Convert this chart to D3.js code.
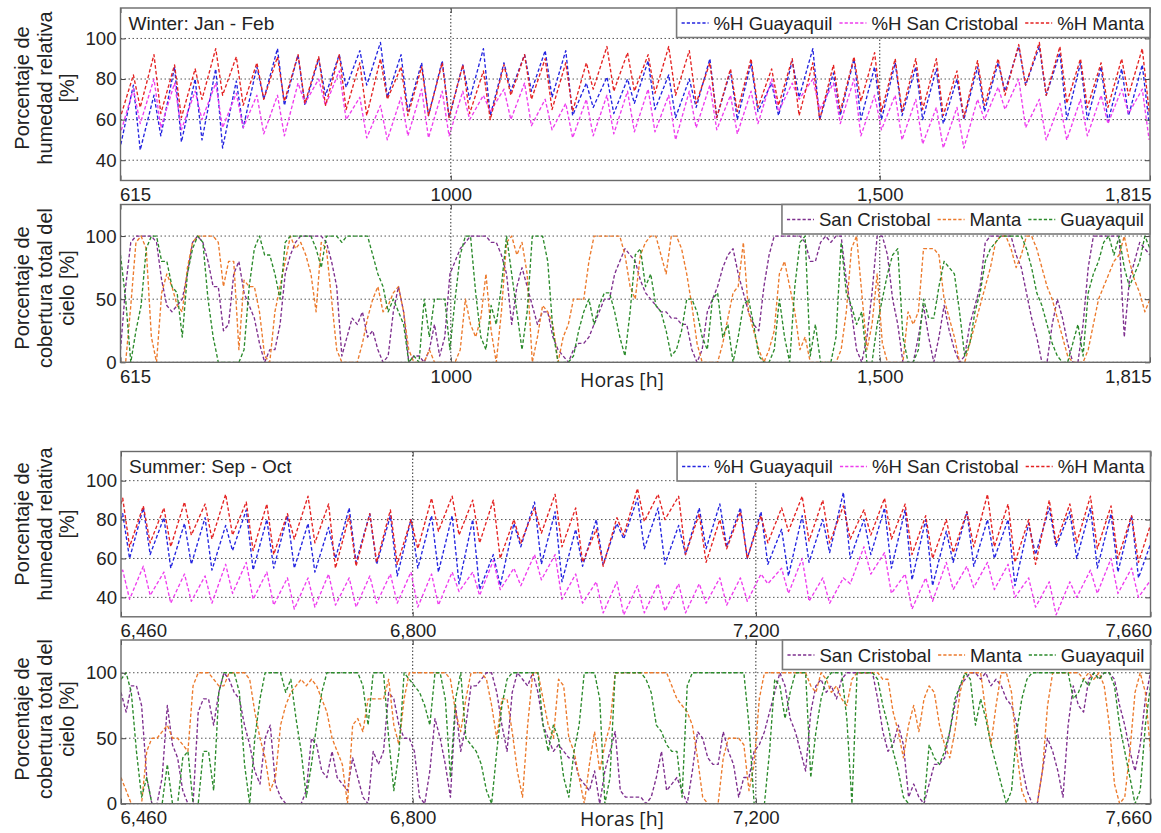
<!DOCTYPE html>
<html>
<head>
<meta charset="utf-8">
<script src="https://cdn.jsdelivr.net/npm/d3@7"></script>
<style>
  body { margin: 0; background: #fff; }
  svg text { font-family: Arial, "Liberation Sans", sans-serif; fill: #222; }
</style>
</head>
<body>
<svg id="chart" width="1161" height="833"></svg>
<script>
// ---------- axes ----------
const winterTicks = [615, 1000, 1500, 1815];
const winterTickLabels = ["615", "1000", "1,500", "1,815"];
const summerTicks = [6460, 6800, 7200, 7660];
const summerTickLabels = ["6,460", "6,800", "7,200", "7,660"];
const humidityTicks = [40, 60, 80, 100];
const cloudTicks = [0, 50, 100];

// ---------- relative humidity (%), daily minimum / maximum pairs ----------
// order: afternoon minimum, next morning maximum, afternoon minimum, ...
const winterHumGuayaquil = [45,77, 45,72, 52,86, 49,80, 50,85, 46,79, 56,86, 70,95, 67,92, 67,90, 72,92, 76,94, 77,98, 71,92, 64,88, 62,89, 61,87, 70,95, 62,88, 74,92, 74,94, 71,94, 62,78, 66,81, 63,80, 68,89, 65,82, 61,80, 66,90, 61,84, 60,88, 64,78, 62,89, 71,95, 60,83, 62,90, 60,86, 60,88, 62,86, 60,85, 58,80, 60,86, 64,88, 74,96, 77,96, 72,93, 60,88, 60,86, 59,85, 62,87, 58];
const winterHumSanCristobal = [52,75, 58,80, 56,78, 55,74, 60,78, 56,73, 56,72, 53,72, 52,78, 68,80, 67,84, 60,71, 51,67, 50,71, 52,75, 51,74, 52,74, 60,72, 64,75, 60,78, 57,70, 55,68, 51,70, 52,72, 53,74, 54,75, 54,72, 50,74, 56,77, 55,72, 53,74, 58,80, 64,78, 70,80, 65,78, 58,80, 52,72, 55,72, 50,70, 48,66, 46,66, 46,70, 60,76, 65,80, 56,70, 50,68, 50,70, 52,72, 58,75, 63,75, 50];
const winterHumManta = [60,82, 66,92, 63,87, 61,85, 70,95, 72,91, 67,88, 70,91, 69,92, 68,91, 67,92, 65,88, 62,90, 70,86, 62,86, 62,88, 61,87, 63,84, 60,87, 72,92, 70,90, 65,88, 64,88, 75,96, 74,93, 74,92, 73,96, 72,94, 68,88, 61,85, 64,90, 66,85, 67,90, 62,88, 60,87, 64,91, 69,93, 64,90, 64,90, 65,90, 62,84, 61,89, 67,90, 72,97, 77,98, 72,96, 68,90, 66,88, 66,90, 72,95, 64];

const summerHumGuayaquil = [60,83, 60,86, 62,81, 55,78, 57,81, 54,77, 64,85, 54,80, 55,82, 55,78, 53,76, 60,86, 58,83, 57,82, 51,80, 55,82, 53,82, 47,80, 44,62, 46,78, 66,89, 57,84, 48,75, 56,80, 57,78, 70,91, 65,86, 57,77, 62,86, 65,88, 66,86, 60,84, 57,75, 51,82, 58,80, 63,94, 60,80, 62,86, 55,85, 49,80, 46,74, 58,84, 56,80, 60,80, 46,78, 62,86, 66,84, 60,86, 55,83, 53,82, 50,70];
const summerHumSanCristobal = [40,54, 39,56, 41,53, 37,52, 38,51, 37,57, 42,58, 39,53, 36,50, 34,50, 35,52, 36,50, 35,51, 37,52, 37,53, 35,52, 36,53, 43,53, 41,59, 44,55, 46,62, 49,62, 39,52, 37,48, 32,48, 31,46, 32,47, 33,47, 32,47, 37,50, 36,50, 38,52, 47,55, 42,60, 38,50, 37,50, 47,66, 52,63, 42,52, 34,50, 38,58, 44,56, 45,58, 44,57, 40,50, 35,48, 31,48, 40,54, 42,60, 42,55, 40,50];
const summerHumManta = [68,91, 66,87, 68,86, 66,89, 72,88, 70,93, 72,89, 64,88, 62,83, 70,92, 68,88, 55,82, 56,83, 58,85, 57,80, 65,91, 74,92, 72,90, 68,90, 60,80, 68,86, 73,93, 66,86, 58,75, 56,81, 72,96, 79,93, 80,92, 62,83, 58,80, 65,84, 60,82, 68,86, 74,92, 69,90, 68,87, 70,85, 72,91, 70,88, 62,82, 60,80, 63,84, 66,93, 66,88, 58,80, 57,90, 68,88, 68,92, 65,87, 60,82, 58,80];

// ---------- total sky cover (%), one reading every 6 hours ----------
const winterCloudSanCristobal = [10,60,95,100,100,100,100,95,65,45, 40,45,50,70,95,100,95,80,60,60, 25,30,70,80,55,45,35,15,0,10, 10,30,70,85,95,100,100,100,100,100, 95,80,60,5,20,35,30,40,20,25, 10,0,5,40,60,
  40,0,5,5,0,10,30,5,20,70, 80,90,95,100,100,100,100,95,95,85, 70,30,60,75,60,45,30,40,40,20, 10,5,0,10,15,15,20,30,40,50, 50,70,80,90,85,80,65,55,50,45, 40,40,35,35,30,30,10,0,10,40, 50,60,75,85,90,70,55,40,30,25, 60,85,100,100,100,100,100,
  100,95,80,80,95,100,95,100,100,65, 40,10,0,20,55,100,100,85,50,30, 0,0,0,20,45,20,0,20,45,25, 10,0,5,30,45,60,95,100,100,100, 100,100,85,75,55,35,20,0,0,30, 50,35,15,0,0,30,75,100,100,100, 100,100,100,20,65,80,95,90,85];
const winterCloudManta = [0,0,45,95,100,90,20,0,55,70, 60,45,40,75,95,100,100,100,100,95, 60,80,80,10,65,60,60,40,5,0, 40,60,80,100,90,95,85,70,40,95, 90,50,10,0,0,0,0,15,35,50, 60,40,45,55,60,
  40,10,0,0,0,10,0,0,0,0, 0,10,50,30,20,35,70,25,0,40, 95,100,85,95,70,0,20,45,40,30, 0,20,30,50,50,50,80,100,100,100, 100,100,100,85,60,50,85,95,100,100, 85,70,100,100,90,70,45,15,0,0, 0,0,15,35,55,60,95,40,25,10, 0,10,25,70,80,60,40,
  10,20,0,0,0,0,0,0,10,40, 90,100,55,10,30,70,15,0,0,0, 0,40,30,40,90,90,90,85,50,35, 20,0,0,15,30,45,60,75,95,100, 100,90,75,85,100,100,90,75,60,50, 35,20,5,0,0,0,10,30,50,60, 70,80,85,100,80,65,55,40,50];
const winterCloudGuayaquil = [85,50,0,25,45,90,100,100,80,80, 60,55,20,70,90,100,95,50,20,0, 0,0,0,0,10,60,90,100,85,85, 70,50,95,100,100,100,100,100,90,75, 100,100,100,95,100,100,100,100,100,85, 70,60,40,50,40,
  30,0,5,0,50,20,50,50,50,10, 50,85,100,100,55,20,10,45,30,60, 100,70,40,10,40,100,100,100,80,25, 0,0,0,5,25,40,50,30,45,55, 55,40,20,5,40,85,90,60,70,45, 40,25,5,10,25,50,50,40,20,10, 50,55,20,30,0,20,45,50,30,5, 0,0,10,50,20,0,60,
  95,100,5,30,0,0,0,20,95,55, 45,30,40,0,0,30,50,70,85,90, 20,0,0,10,50,35,35,60,80,75, 70,40,5,15,40,55,80,90,95,100, 100,100,100,100,90,75,55,45,30,15, 5,0,0,15,30,5,55,70,80,95, 100,85,100,75,60,70,80,100,90];

const summerCloudSanCristobal = [85,70,90,90,75,20,0,0,20,75, 45,35,10,0,0,70,80,80,60,85, 100,95,85,80,60,45,25,15,50,60, 15,5,0,0,0,0,10,50,45,25, 20,40,20,15,10,35,20,5,0,40, 30,40,85,80,60,
  50,50,40,5,0,25,65,50,30,5, 75,40,60,90,90,95,100,100,85,60, 40,85,100,95,90,100,85,60,50,40, 45,40,35,35,20,15,10,25,0,25, 40,55,10,5,5,5,5,0,5,20, 40,10,15,20,10,0,25,55,50,35, 30,30,55,40,30,5,20,20,40,45, 55,70,85,100,90,65,55,
  40,25,70,90,95,85,90,80,95,100, 100,100,100,100,100,80,55,40,45,60, 45,5,15,5,0,15,30,30,35,55, 75,90,95,100,100,95,100,90,95,90, 80,75,60,30,10,0,0,25,50,40, 25,5,60,90,75,70,95,100,95,100, 100,95,75,60,40,25,45,80,100];
const summerCloudManta = [20,10,0,0,0,40,50,50,55,60, 50,50,45,40,90,100,100,100,95,90, 90,100,100,100,100,95,70,50,35,10, 20,60,75,85,90,95,90,95,90,80, 70,50,40,30,0,60,65,55,80,80, 80,80,95,60,45,
  80,100,100,100,100,100,100,100,100,95, 70,55,80,100,100,100,95,75,50,80, 80,55,25,5,60,100,100,80,60,50, 95,90,50,40,20,0,30,55,25,45, 60,100,100,100,100,100,100,100,100,100, 100,100,90,80,75,70,60,35,5,0, 0,0,35,50,50,50,45,10,30,80, 100,100,100,100,100,100,100,
  100,100,90,85,100,95,85,90,80,75, 95,100,100,100,100,100,95,95,70,55, 35,60,75,55,80,90,85,60,45,35, 55,85,100,100,100,100,70,45,75,100, 100,85,40,10,0,0,0,25,75,100, 100,100,100,100,100,95,100,95,100,90, 60,15,0,5,40,85,100,85,40];
const summerCloudGuayaquil = [95,100,85,40,5,20,0,0,0,30, 0,0,35,40,0,0,40,40,10,85, 100,100,100,85,30,0,50,80,100,100, 100,100,85,95,65,40,5,30,60,85, 100,100,100,100,100,100,100,90,60,100, 100,100,50,10,40,
  100,95,90,85,75,60,100,100,80,20, 80,100,50,45,40,30,10,0,40,75, 95,100,100,100,100,100,100,60,40,60, 50,20,5,40,60,100,100,100,80,0, 20,100,100,100,100,100,100,95,85,60, 55,45,40,40,5,90,100,100,100,100, 100,100,100,100,100,100,100,60,0,0, 0,40,95,90,65,85,100,
  100,100,20,55,80,95,100,100,100,65, 0,100,100,100,100,95,75,60,40,25, 5,0,0,0,0,45,35,30,40,55, 80,90,100,95,60,80,65,45,30,15, 0,10,55,80,95,100,100,100,100,100, 100,100,100,80,85,95,90,100,95,100, 100,90,60,40,20,0,10,60,90];

// ---------- colours ----------
const humColors = { guayaquil: "#2424e0", sanCristobal: "#ee3cee", manta: "#e42222" };
const cloudColors = { sanCristobal: "#7e2f8e", manta: "#ec7a2c", guayaquil: "#2b8a2b" };

// daily min/max pairs -> hourly positions (minimum ~14:00, maximum ~06:00)
function dailyExtremes(values, firstMinimumHour) {
  return values.map((v, i) => ({ h: firstMinimumHour + 24 * Math.floor(i / 2) + (i % 2 ? 16 : 0), v }));
}
function sixHourly(values, startHour) {
  return values.map((v, i) => ({ h: startHour + 6 * i, v }));
}

const panels = [
  {
    left: 120.5, right: 1150, top: 8, bottom: 180.5,
    xDomain: [615, 1815], yDomain: [30, 115],
    xTicks: winterTicks, xLabels: winterTickLabels, yTicks: humidityTicks,
    title: "Winter: Jan - Feb",
    ylabel: ["Porcentaje de", "humedad relativa", "[%]"], labelY: 88,
    series: [
      { name: "%H Guayaquil", color: humColors.guayaquil, pts: dailyExtremes(winterHumGuayaquil, 614) },
      { name: "%H San Cristobal", color: humColors.sanCristobal, pts: dailyExtremes(winterHumSanCristobal, 614) },
      { name: "%H Manta", color: humColors.manta, pts: dailyExtremes(winterHumManta, 614) }
    ]
  },
  {
    left: 120.5, right: 1150, top: 204.5, bottom: 362.3,
    xDomain: [615, 1815], yDomain: [0, 125],
    xTicks: winterTicks, xLabels: winterTickLabels, yTicks: cloudTicks,
    ylabel: ["Porcentaje de", "cobertura total del", "cielo [%]"], labelY: 288,
    xTitle: "Horas [h]", xTitleOffset: 25,
    series: [
      { name: "San Cristobal", color: cloudColors.sanCristobal, pts: sixHourly(winterCloudSanCristobal, 615) },
      { name: "Manta", color: cloudColors.manta, pts: sixHourly(winterCloudManta, 615) },
      { name: "Guayaquil", color: cloudColors.guayaquil, pts: sixHourly(winterCloudGuayaquil, 615) }
    ]
  },
  {
    left: 121, right: 1150.5, top: 451.5, bottom: 616.8,
    xDomain: [6460, 7660], yDomain: [30, 115],
    xTicks: summerTicks, xLabels: summerTickLabels, yTicks: humidityTicks,
    title: "Summer: Sep - Oct",
    ylabel: ["Porcentaje de", "humedad relativa", "[%]"], labelY: 524,
    series: [
      { name: "%H Guayaquil", color: humColors.guayaquil, pts: dailyExtremes(summerHumGuayaquil, 6446) },
      { name: "%H San Cristobal", color: humColors.sanCristobal, pts: dailyExtremes(summerHumSanCristobal, 6446) },
      { name: "%H Manta", color: humColors.manta, pts: dailyExtremes(summerHumManta, 6446) }
    ]
  },
  {
    left: 121, right: 1150.5, top: 640, bottom: 803.7,
    xDomain: [6460, 7660], yDomain: [0, 125],
    xTicks: summerTicks, xLabels: summerTickLabels, yTicks: cloudTicks,
    ylabel: ["Porcentaje de", "cobertura total del", "cielo [%]"], labelY: 719,
    xTitle: "Horas [h]", xTitleOffset: 22,
    series: [
      { name: "San Cristobal", color: cloudColors.sanCristobal, pts: sixHourly(summerCloudSanCristobal, 6460) },
      { name: "Manta", color: cloudColors.manta, pts: sixHourly(summerCloudManta, 6460) },
      { name: "Guayaquil", color: cloudColors.guayaquil, pts: sixHourly(summerCloudGuayaquil, 6460) }
    ]
  }
];

const svg = d3.select("#chart");
const dash = "3.6,2.2";

panels.forEach((p, idx) => {
  const x = d3.scaleLinear().domain(p.xDomain).range([p.left, p.right]);
  const y = d3.scaleLinear().domain(p.yDomain).range([p.bottom, p.top]);
  const g = svg.append("g");

  const clipId = "plot-clip-" + idx;
  svg.append("clipPath").attr("id", clipId).append("rect")
    .attr("x", p.left).attr("y", p.top)
    .attr("width", p.right - p.left).attr("height", p.bottom - p.top);

  // dotted grid
  g.selectAll(null).data(p.yTicks).join("line")
    .attr("x1", p.left).attr("x2", p.right)
    .attr("y1", d => y(d)).attr("y2", d => y(d))
    .attr("stroke", "#555").attr("stroke-width", 1).attr("stroke-dasharray", "1.5,2.5");
  g.selectAll(null).data(p.xTicks.slice(1, -1)).join("line")
    .attr("x1", d => x(d)).attr("x2", d => x(d))
    .attr("y1", p.top).attr("y2", p.bottom)
    .attr("stroke", "#333").attr("stroke-width", 1).attr("stroke-dasharray", "1.5,2");

  // series
  const line = d3.line().x(d => x(d.h)).y(d => y(d.v));
  const lines = g.append("g").attr("clip-path", `url(#${clipId})`);
  p.series.forEach(s => {
    lines.append("path").datum(s.pts)
      .attr("d", line).attr("fill", "none")
      .attr("stroke", s.color).attr("stroke-width", 1.35)
      .attr("stroke-dasharray", dash).attr("stroke-linejoin", "round");
  });

  // axes
  const yAxis = g.append("g").attr("transform", `translate(${p.left},0)`)
    .call(d3.axisLeft(y).tickValues(p.yTicks).tickSize(-5).tickPadding(4));
  const xAxis = g.append("g").attr("transform", `translate(0,${p.bottom})`)
    .call(d3.axisBottom(x).tickValues(p.xTicks).tickFormat((d, i) => p.xLabels[i]).tickSize(-5).tickPadding(7));
  g.append("g").attr("transform", `translate(${p.right},0)`)
    .call(d3.axisRight(y).tickValues(p.yTicks).tickSize(-5).tickFormat(""));
  g.append("g").attr("transform", `translate(0,${p.top})`)
    .call(d3.axisTop(x).tickValues(p.xTicks).tickSize(-5).tickFormat(""));
  g.selectAll(".domain").remove();
  g.selectAll(".tick line").attr("stroke", "#444");
  [yAxis, xAxis].forEach(a => a.selectAll("text")
    .style("font-family", "Arial, 'Liberation Sans', sans-serif")
    .style("font-size", "18.6px").attr("fill", "#222"));
  const xt = xAxis.selectAll(".tick text");
  xt.filter((d, i) => i === 0).attr("text-anchor", "start").attr("dx", -1);
  xt.filter((d, i) => i === p.xTicks.length - 1).attr("text-anchor", "end").attr("dx", 1);

  // frame
  g.append("rect").attr("x", p.left).attr("y", p.top)
    .attr("width", p.right - p.left).attr("height", p.bottom - p.top)
    .attr("fill", "none").attr("stroke", "#6a6a6a").attr("stroke-width", 1.4);

  // panel title
  if (p.title) {
    g.append("text").attr("x", p.left + 8).attr("y", p.top + 21.5)
      .style("font-size", "19px").text(p.title);
  }

  // y label, three centred lines
  const cols = [22, 44.5, 67];
  p.ylabel.forEach((t, i) => {
    g.append("text")
      .attr("transform", `translate(${cols[i]},${p.labelY}) rotate(-90)`)
      .attr("text-anchor", "middle").attr("dominant-baseline", "central")
      .style("font-size", "20px").text(t);
  });

  if (p.xTitle) {
    g.append("text").attr("x", 622).attr("y", p.bottom + p.xTitleOffset)
      .attr("text-anchor", "middle")
      .style("font-family", "'Open Sans', sans-serif").style("font-size", "19.5px")
      .attr("fill", "#333").text(p.xTitle);
  }

  // legend, anchored to the top-right corner of the plot
  const lg = g.append("g");
  const box = lg.append("rect").attr("fill", "#fff").attr("stroke", "#7a7a7a").attr("stroke-width", 1.6);
  let cx = 5;
  p.series.forEach(s => {
    const it = lg.append("g");
    it.append("line").attr("x1", cx).attr("x2", cx + 27).attr("y1", 15).attr("y2", 15)
      .attr("stroke", s.color).attr("stroke-width", 1.3).attr("stroke-dasharray", "3.2,2");
    const t = it.append("text").attr("x", cx + 32).attr("y", 21.5).style("font-size", "18.6px").text(s.name);
    cx += 32 + t.node().getComputedTextLength() + 7;
  });
  const lw = cx - 1;
  box.attr("x", 0).attr("y", 0).attr("width", lw).attr("height", 29.5);
  lg.attr("transform", `translate(${p.right - lw},${p.top})`);
});
</script>
</body>
</html>
